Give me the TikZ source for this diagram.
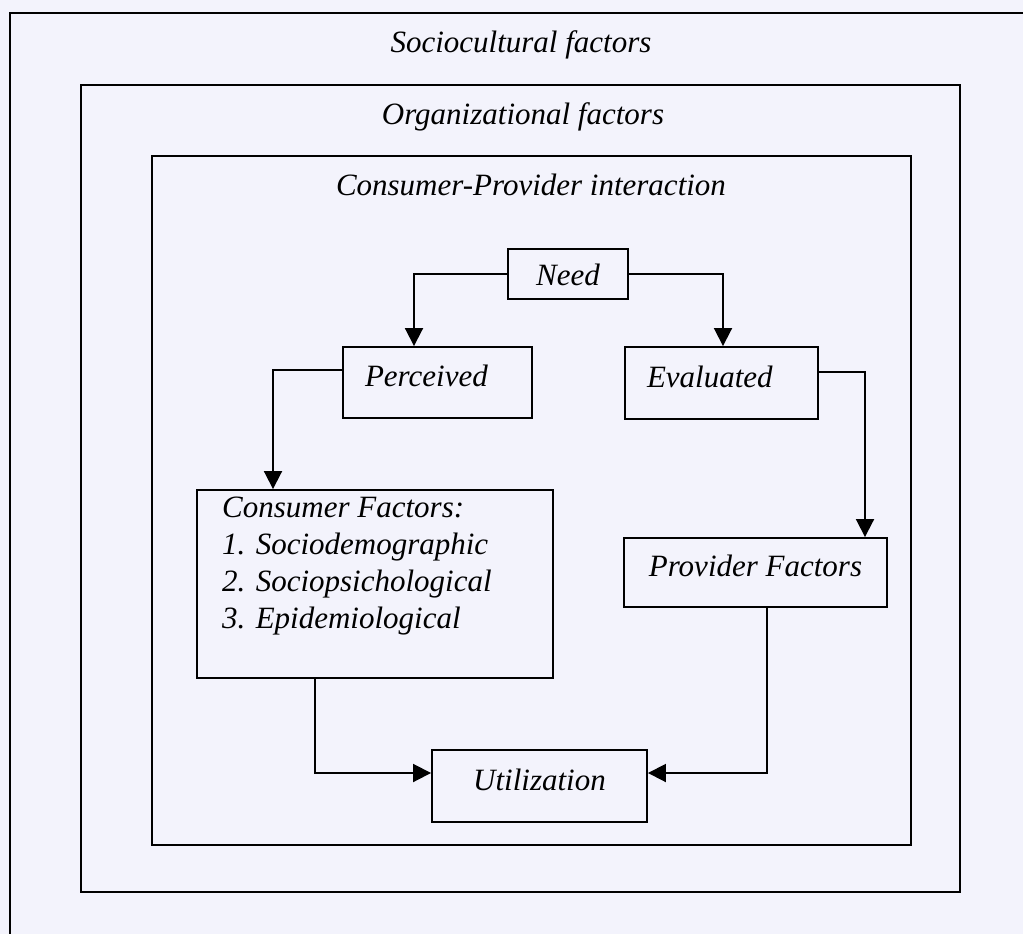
\documentclass[tikz,border=0pt]{standalone}
\usepackage{fontspec}
\setmainfont{Liberation Serif}
\usetikzlibrary{arrows.meta,calc}
\definecolor{bgc}{RGB}{243,243,252}
\begin{document}
\begin{tikzpicture}[x=1pt,y=-1pt,
  every node/.style={font=\itshape\fontsize{31}{37}\selectfont},
  frame/.style={draw,line width=1.9pt},
  box/.style={draw,line width=1.9pt,inner sep=0pt,text height=18pt,text depth=10pt},
  arr/.style={line width=1.9pt,-{Triangle[length=18pt,width=18pt]}}]
\fill[bgc] (0,0) rectangle (1023,934);
\useasboundingbox (0,0) rectangle (1023,934);
\clip (0,0) rectangle (1023,934);
% frames
\draw[frame] (10,950) -- (10,13) -- (1040,13);
\draw[frame] (81,85) rectangle (960,892);
\draw[frame] (152,156) rectangle (911,845);
% titles
\node[anchor=base] (t1) at (521,53) {Sociocultural factors};
\node[anchor=base] (t2) at (523,124) {Organizational factors};
\node[anchor=base] (t3) at (531,195) {Consumer-Provider interaction};
% boxes
\node[box,minimum width=120pt,minimum height=50pt,text height=23pt,text depth=0pt] (need) at (568,274) {Need};
\node[box,text width=145pt,inner xsep=22pt,align=left,minimum height=71pt] (perc) at (437.5,382.5) {Perceived};
\node[box,text width=149pt,inner xsep=22pt,align=left,minimum height=72pt] (eval) at (721.5,383) {Evaluated};
\node[box,minimum width=263pt,minimum height=69pt] (prov) at (755.5,572.5) {Provider Factors};
\node[box,minimum width=215pt,minimum height=72pt] (util) at (539.5,786) {Utilization};
\node[box,minimum width=356pt,minimum height=188pt] (cons) at (375,584) {};
\node[anchor=north west,inner sep=0pt,align=left] (constext) at (222,497) {Consumer Factors:\\1. Sociodemographic\\2. Sociopsichological\\3. Epidemiological};
% connectors
\draw[arr] (need.west) -| ([xshift=-23.5pt]perc.north);
\draw[arr] (need.east) -| ([xshift=1.5pt]eval.north);
\draw[arr] ([yshift=11pt]eval.east) -| ([xshift=109.5pt]prov.north);
\draw[arr] ([yshift=12.5pt]perc.west) -| ([xshift=-102pt]cons.north);
\draw[arr] ([xshift=-60pt]cons.south) |- ([yshift=13pt]util.west);
\draw[arr] ([xshift=11.5pt]prov.south) |- ([yshift=13pt]util.east);
\end{tikzpicture}
\end{document}
